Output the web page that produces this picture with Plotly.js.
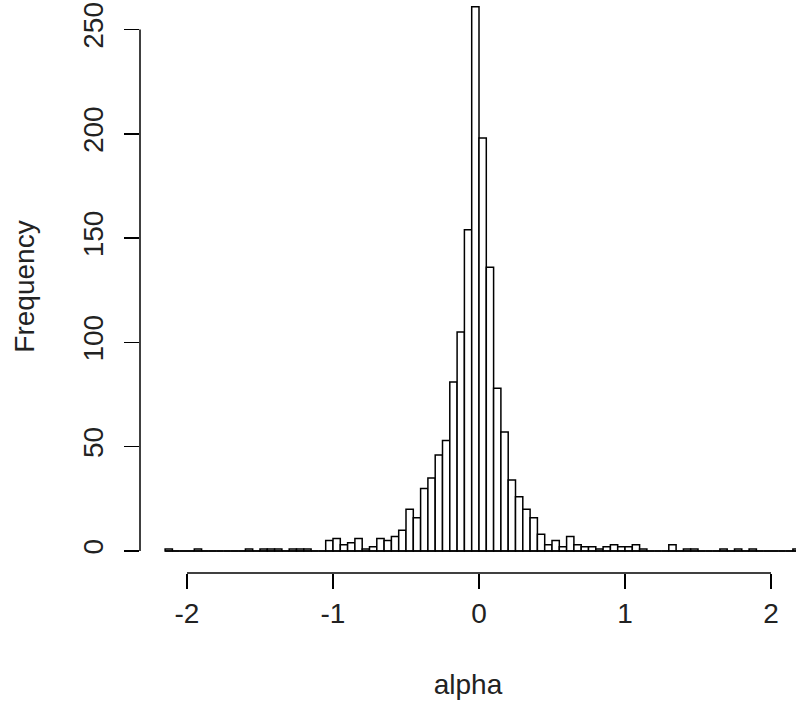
<!DOCTYPE html>
<html>
<head>
<meta charset="utf-8">
<script src="https://cdn.plot.ly/plotly-3.0.1.min.js"></script>
<style>html,body{margin:0;padding:0;background:#fff;}#chart{width:796px;height:714px;}</style>
</head>
<body>
<div id="chart"></div>
<script>
// Histogram of alpha: left edge of each bin (width 0.05) and its count
const binWidth = 0.05;
const binLeft = [
  -2.15,-2.10,-2.05,-2.00,-1.95,-1.90,-1.85,-1.80,-1.75,-1.70,-1.65,-1.60,-1.55,-1.50,-1.45,-1.40,-1.35,-1.30,-1.25,-1.20,-1.15,-1.10,
  -1.05,-1.00,-0.95,-0.90,-0.85,-0.80,-0.75,-0.70,-0.65,-0.60,-0.55,-0.50,-0.45,-0.40,-0.35,-0.30,-0.25,-0.20,-0.15,-0.10,-0.05,
  0.00,0.05,0.10,0.15,0.20,0.25,0.30,0.35,0.40,0.45,0.50,0.55,0.60,0.65,0.70,0.75,0.80,0.85,0.90,0.95,1.00,1.05,
  1.10,1.15,1.20,1.25,1.30,1.35,1.40,1.45,1.50,1.55,1.60,1.65,1.70,1.75,1.80,1.85,1.90,1.95,2.00,2.05,2.10,2.15
];
const counts = [
  1,0,0,0,1,0,0,0,0,0,0,1,0,1,1,1,0,1,1,1,0,0,
  5,6,3,4,6,1,2,6,5,7,10,20,16,30,35,46,53,81,105,154,261,
  198,136,78,57,34,26,20,16,8,3,5,2,7,3,2,2,1,2,3,2,2,3,
  1,0,0,0,3,0,1,1,0,0,0,1,0,1,0,1,0,0,0,0,0,1
];
const xTicks = [-2, -1, 0, 1, 2];
const xTickLabels = ["-2", "-1", "0", "1", "2"];
const yTicks = [0, 50, 100, 150, 200, 250];
const yTickLabels = ["0", "50", "100", "150", "200", "250"];
const xLabel = "alpha";
const yLabel = "Frequency";

const FONT = "Liberation Sans, Arial, sans-serif";
const TXT = "#222";
const FS = 28;
const lastEdge = binLeft[binLeft.length - 1] + binWidth;

const traces = [
  {
    type: "scatter", mode: "lines",
    x: [binLeft[0], lastEdge], y: [0, 0],
    line: {color: "#000", width: 1.5},
    hoverinfo: "skip", showlegend: false
  },
  {
    type: "bar",
    x: binLeft, y: counts,
    offset: 0, width: binWidth,
    marker: {color: "#fff", line: {color: "#000", width: 1.5}},
    showlegend: false
  }
];

const layout = {
  width: 796, height: 714,
  margin: {l: 140, r: 0, t: 0, b: 141, pad: 0},
  paper_bgcolor: "#fff", plot_bgcolor: "#fff",
  showlegend: false, hovermode: false,
  font: {family: FONT, size: FS, color: TXT},
  bargap: 0,
  xaxis: {
    range: [-2.3219, 2.1712], autorange: false,
    showgrid: false, zeroline: false, showline: false,
    tickmode: "array", tickvals: xTicks, ticktext: xTickLabels,
    ticks: "outside", ticklen: 15, tickwidth: 1.5, tickcolor: "#000",
    ticklabelstandoff: 0,
    tickfont: {family: FONT, size: FS, color: TXT},
    title: {text: xLabel, font: {family: FONT, size: FS, color: TXT}, standoff: 46}
  },
  yaxis: {
    range: [-10.55, 264.19], autorange: false,
    showgrid: false, zeroline: false, showline: false,
    tickmode: "array", tickvals: yTicks, ticktext: yTickLabels,
    ticks: "outside", ticklen: 15, tickwidth: 1.5, tickcolor: "#000",
    tickangle: -90, ticklabelstandoff: 10,
    tickfont: {family: FONT, size: FS, color: TXT},
    title: {text: yLabel, font: {family: FONT, size: FS, color: TXT}, standoff: 34}
  },
  shapes: [
    {type: "line", xref: "x", yref: "paper", x0: xTicks[0], x1: xTicks[xTicks.length - 1], y0: 0, y1: 0,
     line: {color: "#000", width: 1.5}},
    {type: "line", xref: "paper", yref: "y", x0: 0, x1: 0, y0: yTicks[0], y1: yTicks[yTicks.length - 1],
     line: {color: "#000", width: 1.5}}
  ]
};

Plotly.newPlot("chart", traces, layout, {staticPlot: true, displayModeBar: false});
</script>
</body>
</html>
